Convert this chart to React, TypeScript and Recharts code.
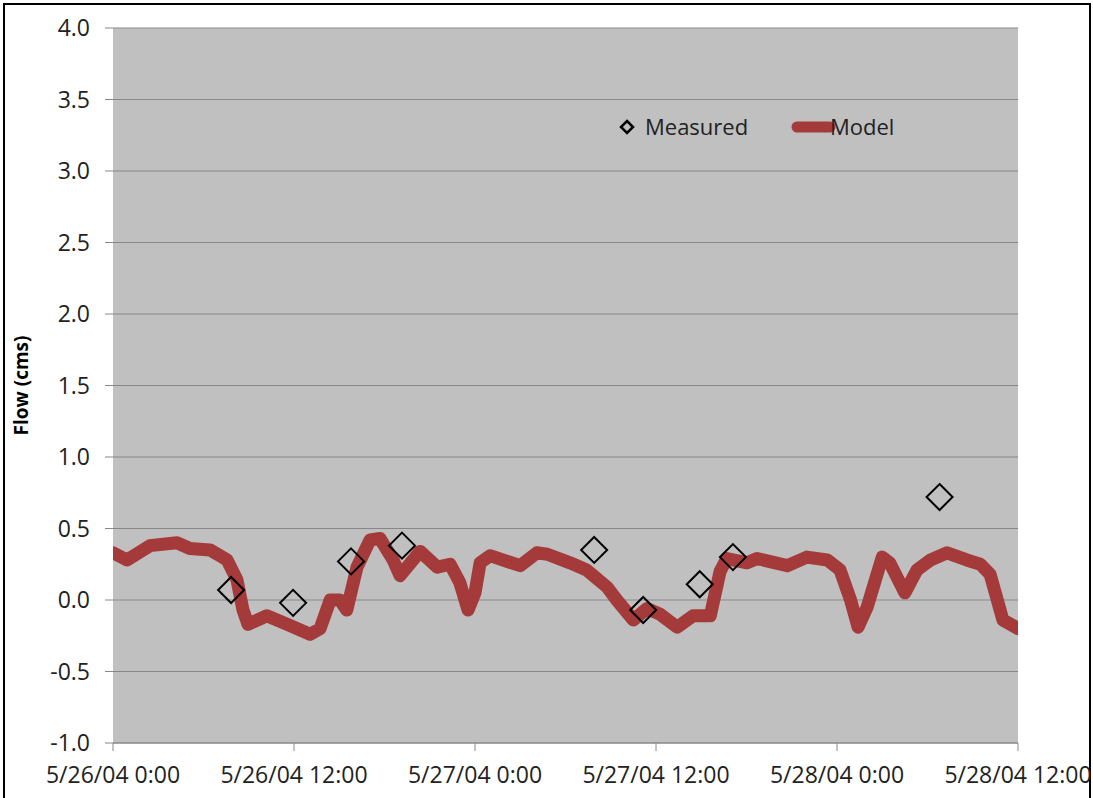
import React from 'react';
import { ComposedChart, Line, Scatter, XAxis, YAxis, CartesianGrid } from 'recharts';

// hours since 5/26/04 0:00
const modelHours = [0, 0.93, 2.45, 4.24, 5.1, 6.43, 7.56, 8.22, 8.62, 8.95, 10.2, 11.54, 13.06, 13.73, 14.4, 15.05, 15.5, 16.18, 17.04, 17.7, 18.57, 19.03, 20.36, 21.5, 22.35, 23.0, 23.54, 24.0, 24.34, 25.0, 27.0, 28.1, 28.8, 30.3, 31.4, 32.76, 33.4, 34.5, 35.4, 36.27, 37.4, 38.46, 39.6, 40.25, 40.7, 42.04, 42.7, 44.7, 46.0, 47.35, 48.2, 48.9, 49.4, 50.0, 51.0, 51.5, 52.5, 53.3, 54.2, 55.3, 56.6, 57.5, 58.15, 59.0, 60];
const modelFlow = [0.33, 0.28, 0.38, 0.40, 0.36, 0.35, 0.28, 0.14, -0.07, -0.17, -0.11, -0.17, -0.24, -0.20, 0.0, 0.0, -0.07, 0.23, 0.42, 0.43, 0.28, 0.17, 0.34, 0.23, 0.25, 0.12, -0.07, 0.05, 0.26, 0.31, 0.24, 0.33, 0.32, 0.26, 0.21, 0.09, 0.0, -0.14, -0.06, -0.10, -0.19, -0.11, -0.11, 0.20, 0.29, 0.26, 0.29, 0.24, 0.30, 0.28, 0.21, 0.0, -0.19, -0.05, 0.30, 0.26, 0.05, 0.21, 0.28, 0.33, 0.28, 0.25, 0.18, -0.14, -0.20];

const measuredHours = [7.83, 11.94, 15.78, 19.16, 31.9, 35.15, 38.9, 41.1, 54.8];
const measuredFlow = [0.07, -0.02, 0.27, 0.38, 0.35, -0.07, 0.11, 0.30, 0.72];

const xTicks = [0, 12, 24, 36, 48, 60];
const xTickLabels = ['5/26/04 0:00', '5/26/04 12:00', '5/27/04 0:00', '5/27/04 12:00', '5/28/04 0:00', '5/28/04 12:00'];
const yTicks = [-1, -0.5, 0, 0.5, 1, 1.5, 2, 2.5, 3, 3.5, 4];

const model = modelHours.map((h, i) => ({ h, v: modelFlow[i] }));
const measured = measuredHours.map((h, i) => ({ h, v: measuredFlow[i] }));

const FONT = '"Open Sans", "Noto Sans", sans-serif';
const LINE_COLOR = '#a53a3a';

const Diamond = (props: any) => {
  const { cx, cy } = props;
  if (cx == null || cy == null) return null;
  const r = 13;
  return (
    <path
      d={`M${cx},${cy - r}L${cx + r},${cy}L${cx},${cy + r}L${cx - r},${cy}Z`}
      fill="none"
      stroke="#000"
      strokeWidth={2}
    />
  );
};

const YLabel = (props: any) => {
  const vb = props.viewBox || {};
  const cy = (vb.y || 0) + (vb.height || 0) / 2;
  const x = 28;
  return (
    <text
      x={x}
      y={cy}
      transform={`rotate(-90, ${x}, ${cy})`}
      textAnchor="middle"
      fontFamily={FONT}
      fontWeight="bold"
      fontSize={19}
      fill="#000"
    >
      Flow (cms)
    </text>
  );
};

export default function App() {
  return (
    <div style={{ position: 'absolute', left: 0, top: 0, width: 1093, height: 798, overflow: 'hidden', background: '#fff' }}>
      <div style={{ position: 'absolute', left: 3, top: 3, width: 1084, height: 810, border: '2px solid #000' }} />
      <ComposedChart
        width={1093}
        height={798}
        margin={{ top: 28, right: 75, bottom: 0, left: 0 }}
        style={{ position: 'absolute', left: 0, top: 0 }}
      >
        <CartesianGrid
          horizontal={true}
          vertical={false}
          stroke="#878787"
          strokeWidth={1.2}
          fill="#c0c0c0"
          horizontalValues={yTicks}
        />
        <XAxis
          dataKey="h"
          type="number"
          domain={[0, 60]}
          ticks={xTicks}
          tickFormatter={(v: number) => xTickLabels[xTicks.indexOf(v)]}
          height={55}
          tickSize={8}
          tickMargin={16}
          stroke="#888"
          tick={{ fill: '#222', fontSize: 23, fontFamily: FONT }}
          interval={0}
          allowDataOverflow
        />
        <YAxis
          type="number"
          domain={[-1, 4]}
          ticks={yTicks}
          tickFormatter={(v: number) => v.toFixed(1)}
          width={113}
          tickSize={8}
          tickMargin={15}
          axisLine={false}
          tickLine={{ stroke: '#888' }}
          tick={{ fill: '#222', fontSize: 23, fontFamily: FONT }}
          interval={0}
          label={<YLabel />}
        />
        <Line
          data={model}
          dataKey="v"
          type="linear"
          stroke={LINE_COLOR}
          strokeWidth={13}
          strokeLinejoin="round"
          strokeLinecap="round"
          dot={false}
          activeDot={false}
          isAnimationActive={false}
        />
        <Scatter
          data={measured}
          dataKey="v"
          shape={<Diamond />}
          isAnimationActive={false}
        />
      </ComposedChart>
      <div style={{ position: 'absolute', left: 619, top: 110, height: 34, width: 300, fontFamily: FONT, fontSize: 22, color: '#222' }}>
        <svg width={300} height={34} style={{ position: 'absolute', left: 0, top: 0, overflow: 'visible' }}>
          <path d="M8,11L14,17L8,23L2,17Z" fill="none" stroke="#000" strokeWidth={2.5} />
          <line x1={178} y1={17} x2={211} y2={17} stroke={LINE_COLOR} strokeWidth={11} strokeLinecap="round" />
        </svg>
        <span style={{ position: 'absolute', left: 26, top: 1, lineHeight: '30px' }}>Measured</span>
        <span style={{ position: 'absolute', left: 211, top: 1, lineHeight: '30px' }}>Model</span>
      </div>
    </div>
  );
}
